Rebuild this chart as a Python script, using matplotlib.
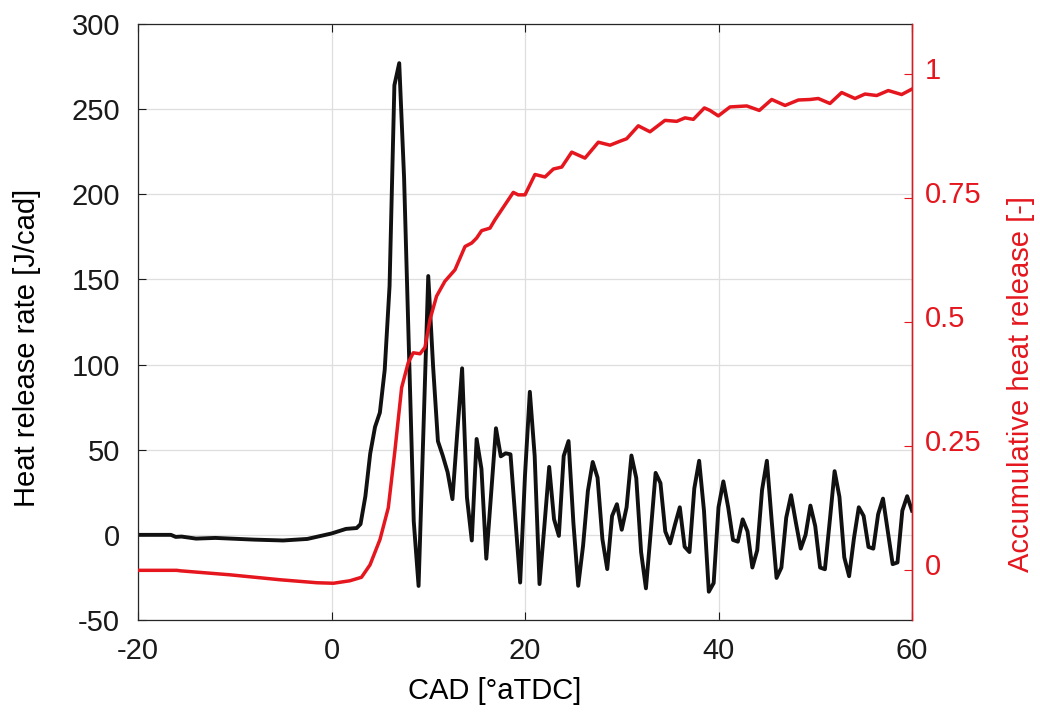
import matplotlib
matplotlib.use('Agg')
import matplotlib.pyplot as plt
import matplotlib.transforms as mtransforms

plt.rcParams['font.family'] = ['Liberation Sans', 'DejaVu Sans']
plt.rcParams['axes.unicode_minus'] = False

# Heat release rate [J/cad] vs crank angle
cad_hrr = [-20, -16.6, -16.1, -15.5, -14, -12, -8, -5, -2.5, -1, 0, 1.5, 2.6,
           3.0, 3.5, 4.0, 4.5, 5.0, 5.5, 6.0, 6.5, 7.0, 7.5, 8.0, 8.5, 9.0, 9.5,
           10.0, 10.5, 11.0, 11.5, 12.0, 12.5, 13.0, 13.5, 14.0, 14.5, 15.0, 15.5,
           16.0, 16.5, 17.0, 17.5, 18.0, 18.5, 19.0, 19.5, 20.0, 20.5, 21.0, 21.5,
           22.0, 22.5, 23.0, 23.5, 24.0, 24.5, 25.0, 25.5, 26.0, 26.5, 27.0, 27.5,
           28.0, 28.5, 29.0, 29.5, 30.0, 30.5, 31.0, 31.5, 32.0, 32.5, 33.0, 33.5,
           34.0, 34.5, 35.0, 35.5, 36.0, 36.5, 37.0, 37.5, 38.0, 38.5, 39.0, 39.5,
           40.0, 40.5, 41.0, 41.5, 42.0, 42.5, 43.0, 43.5, 44.0, 44.5, 45.0, 45.5,
           46.0, 46.5, 47.0, 47.5, 48.0, 48.5, 49.0, 49.5, 50.0, 50.5, 51.0, 51.5,
           52.0, 52.5, 53.0, 53.5, 54.0, 54.5, 55.0, 55.5, 56.0, 56.5, 57.0, 57.5,
           58.0, 58.5, 59.0, 59.5, 60.0]
hrr = [0, 0, -1.2, -1.0, -2.2, -1.8, -2.8, -3.3, -2.4, -0.5, 0.8, 3.5, 4.0,
       6.3, 22.6, 47.7, 63.4, 71.8, 96.9, 146, 264, 277, 210, 110, 8, -30, 60,
       152, 99, 55, 46.5, 36.8, 21, 60, 97.8, 22, -3.3, 56.3, 38.7,
       -14, 24, 62.6, 46.1, 47.9, 47.3, 9.4, -28, 35, 84, 46.3, -28.9,
       5, 39.9, 9.2, -0.6, 46.3, 55.1, 7.2, -29.9, -6.5, 25.8, 42.8, 33.6,
       -2.5, -20.1, 11.1, 18, 3, 16.2, 46.6, 33.4, -10.1, -31.4, 2, 36.4,
       30.4, 2, -5, 6, 16.2, -7, -10.1, 27.3, 43.5, 14.2, -33.4, -28.3,
       16.2, 31.4, 16.2, -3, -4, 9.1, 2, -19.2, -9.1, 26.3, 43.5, 8.1,
       -25.3, -19.2, 10.1, 23.3, 7.1, -8.1, 0, 17.2, 5.1, -19.2, -20.2, 8.1,
       37.4, 22.3, -13.2, -24.3, -2, 16.2, 11.1, -7.1, -8.1, 12.1, 21.3, 2,
       -17.2, -16.2, 14.2, 22.7, 14.2]

# Accumulative (normalised) heat release [-]
cad_ahr = [-20, -16, -15.6, -10.5, -5.3, -1.5, 0.2, 1.9, 3.1, 3.98, 5.01, 5.87,
           6.56, 7.25, 7.93, 8.45, 9.15, 9.66, 10.18, 10.86, 11.72, 12.76, 13.8,
           14.49, 15.0, 15.52, 16.38, 16.9, 17.93, 18.79, 19.3, 20.0, 21.03,
           22.07, 22.93, 23.8, 24.83, 26.2, 27.58, 28.79, 29.82, 30.51, 31.71,
           32.92, 34.47, 35.68, 36.54, 37.4, 38.54, 39.12, 39.98, 41.19, 42.92,
           44.22, 45.5, 46.88, 48.26, 49.46, 50.31, 51.52, 52.73, 54.11, 55.14,
           56.35, 57.55, 58.93, 60.0]
ahr = [0, 0, -0.001, -0.009, -0.019, -0.025, -0.026, -0.021, -0.014, 0.011,
       0.062, 0.126, 0.242, 0.368, 0.418, 0.438, 0.436, 0.449, 0.505, 0.552,
       0.582, 0.605, 0.652, 0.659, 0.669, 0.684, 0.689, 0.706, 0.736, 0.761,
       0.756, 0.756, 0.797, 0.792, 0.808, 0.812, 0.842, 0.830, 0.862, 0.856,
       0.864, 0.869, 0.895, 0.883, 0.906, 0.904, 0.911, 0.908, 0.931, 0.926,
       0.915, 0.933, 0.935, 0.926, 0.948, 0.936, 0.947, 0.948, 0.950, 0.940,
       0.962, 0.950, 0.959, 0.956, 0.966, 0.958, 0.969]

x_ticks = [-20, 0, 20, 40, 60]
hrr_ticks = [-50, 0, 50, 100, 150, 200, 250, 300]
ahr_ticks = [0, 0.25, 0.5, 0.75, 1]
ahr_tick_labels = ['0', '0.25', '0.5', '0.75', '1']

BLACK = '#111111'
RED = '#e5161e'
FS = 21

fig = plt.figure(figsize=(10.4, 7.12), dpi=100)
ax = fig.add_axes([138 / 1040, 92 / 712, 774 / 1040, 596 / 712])
ax.plot(cad_hrr, hrr, color=BLACK, lw=2.8, solid_joinstyle='round')
ax.set_xlim(-20, 60)
ax.set_ylim(-50, 300)
ax.set_xticks(x_ticks)
ax.set_yticks(hrr_ticks)
ax.grid(True, color='#dedede', lw=0.9)
ax.set_axisbelow(True)
ax.tick_params(direction='in', length=6, width=0.8, top=True, right=True,
               labelsize=FS, colors='#1a1a1a')
ax.tick_params(axis='x', pad=12)
ax.tick_params(axis='y', pad=13)
for s in ax.spines.values():
    s.set_color('#262626')
    s.set_linewidth(0.9)
ax.set_xlabel('CAD [°aTDC]', fontsize=FS, va='center')
ax.xaxis.set_label_coords((495 - 138) / 774, (620 - 691) / 596)
ax.set_ylabel('Heat release rate [J/cad]', fontsize=FS, va='center')
ax.yaxis.set_label_coords((27 - 138) / 774, (620 - 348) / 596)

ax2 = ax.twinx()
ax2.plot(cad_ahr, ahr, color=RED, lw=2.5, solid_joinstyle='round')
ax2.set_ylim(-0.1, 1.1)
ax2.set_yticks(ahr_ticks, ahr_tick_labels)
ax2.tick_params(axis='y', direction='in', length=6, width=0.8, colors=RED,
                labelsize=FS, pad=9)
for k in ['left', 'top', 'bottom']:
    ax2.spines[k].set_visible(False)
ax2.spines['right'].set_color(RED)
ax2.spines['right'].set_linewidth(1.0)
ax2.set_ylabel('Accumulative heat release [-]', color=RED, fontsize=FS,
               va='center', rotation=90)
ax2.yaxis.set_label_coords((1021 - 138) / 774, (620 - 384) / 596)

offset = mtransforms.ScaledTranslation(0, 6 / 100, fig.dpi_scale_trans)
for t in ax2.yaxis.get_major_ticks():
    t.label2.set_transform(t.label2.get_transform() + offset)

fig.savefig('out.png', dpi=100)
